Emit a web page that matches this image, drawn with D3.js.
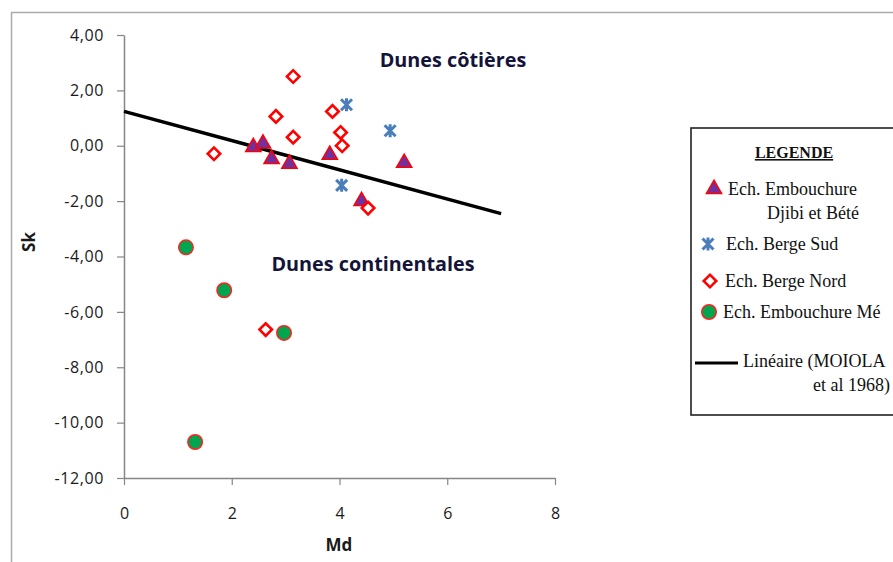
<!DOCTYPE html>
<html>
<head>
<meta charset="utf-8">
<script src="https://cdn.jsdelivr.net/npm/d3@7"></script>
<style>
  body { margin: 0; background: #fff; }
  svg { display: block; }
</style>
</head>
<body>
<svg id="chart" width="893" height="562"></svg>
<script>
// Md / Sk values
var embouchureDjibi = [
  {md: 2.40, sk: -0.05}, {md: 2.58, sk: 0.08}, {md: 2.74, sk: -0.48},
  {md: 3.07, sk: -0.65}, {md: 3.82, sk: -0.33}, {md: 4.41, sk: -2.00},
  {md: 5.20, sk: -0.62}
];
var bergeSud = [
  {md: 4.13, sk: 1.48}, {md: 4.94, sk: 0.54}, {md: 4.04, sk: -1.43}
];
var bergeNord = [
  {md: 3.14, sk: 2.50}, {md: 2.82, sk: 1.06}, {md: 3.87, sk: 1.24},
  {md: 3.14, sk: 0.31}, {md: 1.67, sk: -0.29}, {md: 4.02, sk: 0.48},
  {md: 4.05, sk: 0.00}, {md: 4.53, sk: -2.25}, {md: 2.63, sk: -6.64}
];
var embouchureMe = [
  {md: 1.15, sk: -3.67}, {md: 1.86, sk: -5.22}, {md: 2.97, sk: -6.76},
  {md: 1.32, sk: -10.70}
];
var moiolaLine = [{md: 0, sk: 1.24}, {md: 7, sk: -2.45}];

var xTicks = [0, 2, 4, 6, 8];
var yTicks = [4, 2, 0, -2, -4, -6, -8, -10, -12];

var svg = d3.select("#chart");

// outer chart frame
svg.append("path")
    .attr("d", "M11.5,570 L11.5,12.5 L900,12.5")
    .attr("fill", "none")
    .attr("stroke", "#ababab")
    .attr("stroke-width", 1.5);

var x = d3.scaleLinear().domain([0, 8]).range([124, 555]);
var y = d3.scaleLinear().domain([-12, 4]).range([478, 35]);

var fmt = function(d) { return d3.format(".2f")(d).replace(".", ",").replace("−", "-"); };
var sans = "Open Sans, Liberation Sans, sans-serif";

var xAxis = svg.append("g")
    .attr("transform", "translate(0," + y(-12) + ")")
    .call(d3.axisBottom(x).tickValues(xTicks).tickSize(7).tickSizeOuter(0));
var yAxis = svg.append("g")
    .attr("transform", "translate(" + x(0) + ",0)")
    .call(d3.axisLeft(y).tickValues(yTicks).tickSize(7).tickSizeOuter(0).tickFormat(fmt));

[xAxis, yAxis].forEach(function(g) {
  g.select(".domain").attr("stroke", "#868686").attr("stroke-width", 1.5);
  g.selectAll(".tick line").attr("stroke", "#868686").attr("stroke-width", 1.2);
  g.selectAll(".tick text")
      .attr("fill", "#1a1a1a")
      .attr("font-family", sans)
      .attr("font-size", 16);
});
xAxis.selectAll(".tick text").attr("y", 30);
yAxis.selectAll(".tick text").attr("x", -20).attr("letter-spacing", 0.6);

svg.append("text")
    .attr("x", 339).attr("y", 551)
    .attr("text-anchor", "middle")
    .attr("font-family", sans)
    .attr("font-weight", "bold")
    .attr("font-size", 17)
    .attr("fill", "#1a1a1a")
    .text("Md");
svg.append("text")
    .attr("transform", "translate(35,242) rotate(-90)")
    .attr("text-anchor", "middle")
    .attr("font-family", sans)
    .attr("font-weight", "bold")
    .attr("font-size", 17)
    .attr("fill", "#1a1a1a")
    .text("Sk");

// zone labels
svg.append("text")
    .attr("x", 453).attr("y", 67)
    .attr("text-anchor", "middle")
    .attr("font-family", sans)
    .attr("font-weight", "bold")
    .attr("font-size", 19.8)
    .attr("fill", "#14143a")
    .text("Dunes côtières");
svg.append("text")
    .attr("x", 373).attr("y", 271)
    .attr("text-anchor", "middle")
    .attr("font-family", sans)
    .attr("font-weight", "bold")
    .attr("font-size", 19.8)
    .attr("fill", "#14143a")
    .text("Dunes continentales");

// trend line
svg.append("path")
    .datum(moiolaLine)
    .attr("fill", "none")
    .attr("stroke", "#000")
    .attr("stroke-width", 3.5)
    .attr("d", d3.line().x(function(d) { return x(d.md); }).y(function(d) { return y(d.sk); }));

var starPath = "M-5.5,-5.5L5.5,5.5M-5.5,5.5L5.5,-5.5M0,-6.5L0,6.5";

function triangle(g) {
  g.attr("d", d3.symbol().type(d3.symbolTriangle).size(100))
    .attr("fill", "#7030a0").attr("stroke", "#ff0000").attr("stroke-width", 1.5);
}
function star(g) {
  g.attr("d", starPath)
    .attr("fill", "none").attr("stroke", "#4a7ebb").attr("stroke-width", 3);
}
function diamond(g) {
  g.attr("d", d3.symbol().type(d3.symbolSquare).size(78))
    .attr("fill", "#fff").attr("stroke", "#ff0000").attr("stroke-width", 2.6);
}
function circle(g) {
  g.attr("d", d3.symbol().type(d3.symbolCircle).size(165))
    .attr("fill", "#00a64f").attr("stroke", "#ff2020").attr("stroke-width", 1.5);
}

function plot(data, style, rot) {
  svg.append("g").selectAll("path")
    .data(data)
    .enter().append("path")
    .call(style)
    .attr("transform", function(d) {
      return "translate(" + x(d.md) + "," + y(d.sk) + ")" + (rot ? " rotate(45)" : "");
    });
}
plot(embouchureDjibi, triangle);
plot(bergeSud, star);
plot(bergeNord, diamond, true);
plot(embouchureMe, circle);

// legend
var lg = svg.append("g");
lg.append("rect")
    .attr("x", 691).attr("y", 128)
    .attr("width", 230).attr("height", 287)
    .attr("fill", "#fff").attr("stroke", "#222").attr("stroke-width", 1.6);

var serif = "Liberation Serif, Times New Roman, serif";
lg.append("text")
    .attr("x", 794).attr("y", 158)
    .attr("text-anchor", "middle")
    .attr("font-family", serif).attr("font-weight", "bold").attr("font-size", 16)
    .attr("text-decoration", "underline")
    .attr("fill", "#111")
    .text("LEGENDE");

var legendItems = [
  {lines: ["Ech. Embouchure", "Djibi et Bété"], style: triangle, sx: 714, sy: 189, tx: 728, ty: 195, tx2: 767},
  {lines: ["Ech. Berge Sud"], style: star, sx: 708, sy: 244, tx: 726, ty: 250},
  {lines: ["Ech. Berge Nord"], style: diamond, rot: true, sx: 710, sy: 281, tx: 725, ty: 287},
  {lines: ["Ech. Embouchure Mé"], style: circle, sx: 709, sy: 312, tx: 723, ty: 318}
];
legendItems.forEach(function(it) {
  lg.append("path").call(it.style)
    .attr("transform", "translate(" + it.sx + "," + it.sy + ")" + (it.rot ? " rotate(45)" : ""));
  it.lines.forEach(function(t, i) {
    lg.append("text")
      .attr("x", i === 0 ? it.tx : it.tx2)
      .attr("y", it.ty + i * 24)
      .attr("font-family", serif).attr("font-size", 18).attr("fill", "#111")
      .text(t);
  });
});
lg.append("line")
    .attr("x1", 695).attr("x2", 738).attr("y1", 363).attr("y2", 363)
    .attr("stroke", "#000").attr("stroke-width", 3);
lg.append("text")
    .attr("x", 743).attr("y", 367)
    .attr("font-family", serif).attr("font-size", 18).attr("fill", "#111")
    .text("Linéaire (MOIOLA");
lg.append("text")
    .attr("x", 813).attr("y", 391)
    .attr("font-family", serif).attr("font-size", 18).attr("fill", "#111")
    .text("et al 1968)");
</script>
</body>
</html>
